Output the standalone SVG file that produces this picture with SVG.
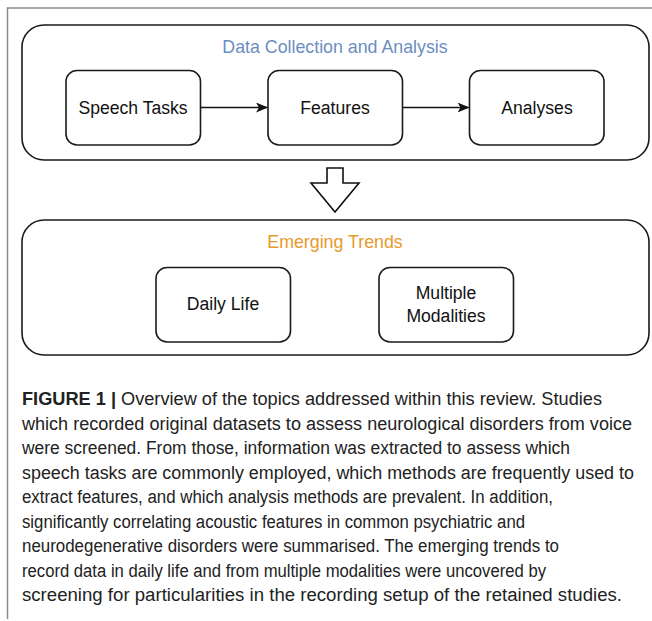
<svg xmlns="http://www.w3.org/2000/svg" width="652" height="621" viewBox="0 0 652 621">
<defs>
<style>
.frame{fill:none;stroke:#8a8a8a;stroke-width:1.5}
.group{fill:#fff;stroke:#1a1a1a;stroke-width:1.6}
.node{fill:#fff;stroke:#1a1a1a;stroke-width:1.6}
.lbl{font-family:"Liberation Sans",Arial,sans-serif;font-size:17.6px;fill:#111;text-anchor:middle}
.title{font-family:"Liberation Sans",Arial,sans-serif;font-size:17.8px;text-anchor:middle}
.cap{font-family:"Liberation Sans",Arial,sans-serif;font-size:18px;fill:#222}
.edge{fill:none;stroke:#111;stroke-width:1.6}
</style>
<marker id="arr" viewBox="0 0 12 10" refX="11" refY="5" markerWidth="12" markerHeight="10" markerUnits="userSpaceOnUse" orient="auto">
<path d="M0,0 L12,5 L0,10 L3,5 Z" fill="#111"/>
</marker>
</defs>
<rect width="652" height="621" fill="#fff"/>
<path class="frame" d="M652,8 H7.5 V619"/>

<g id="data-collection">
<rect class="group" x="22" y="25" width="627" height="135" rx="22"/>
<text class="title" x="335" y="53" fill="#6c8ebf">Data Collection and Analysis</text>
</g>
<g id="speech-tasks">
<rect class="node" x="66" y="70.5" width="134.5" height="74.5" rx="11"/>
<text class="lbl" x="133" y="113.5">Speech Tasks</text>
</g>
<g id="features">
<rect class="node" x="268" y="70.5" width="134.5" height="74.5" rx="11"/>
<text class="lbl" x="335" y="113.5">Features</text>
</g>
<g id="analyses">
<rect class="node" x="469.5" y="70.5" width="134.5" height="74.5" rx="11"/>
<text class="lbl" x="537" y="113.5">Analyses</text>
</g>

<g id="connectors">
<line class="edge" x1="200.5" y1="107.5" x2="267" y2="107.5" marker-end="url(#arr)"/>
<line class="edge" x1="402.5" y1="107.5" x2="468.5" y2="107.5" marker-end="url(#arr)"/>
<polygon class="edge" points="327,168 343,168 343,183 359,183 335,212 311,183 327,183" fill="#fff"/>
</g>

<g id="emerging-trends">
<rect class="group" x="22" y="220" width="627" height="135" rx="22"/>
<text class="title" x="335" y="248" fill="#e69a2e">Emerging Trends</text>
</g>
<g id="daily-life">
<rect class="node" x="156" y="267.5" width="134.5" height="74.5" rx="11"/>
<text class="lbl" x="223" y="309.5">Daily Life</text>
</g>
<g id="multiple-modalities">
<rect class="node" x="379" y="267.5" width="134.5" height="74.5" rx="11"/>
<text class="lbl" x="446" y="299">Multiple</text>
<text class="lbl" x="446" y="322">Modalities</text>
</g>

<g id="caption" class="cap">
<text x="22" y="405" textLength="580" lengthAdjust="spacingAndGlyphs"><tspan font-weight="bold">FIGURE 1 |</tspan> Overview of the topics addressed within this review. Studies</text>
<text x="22" y="429.5" textLength="610" lengthAdjust="spacingAndGlyphs">which recorded original datasets to assess neurological disorders from voice</text>
<text x="22" y="454" textLength="548" lengthAdjust="spacingAndGlyphs">were screened. From those, information was extracted to assess which</text>
<text x="22" y="478.5" textLength="612" lengthAdjust="spacingAndGlyphs">speech tasks are commonly employed, which methods are frequently used to</text>
<text x="22" y="503" textLength="531" lengthAdjust="spacingAndGlyphs">extract features, and which analysis methods are prevalent. In addition,</text>
<text x="22" y="527.5" textLength="503" lengthAdjust="spacingAndGlyphs">significantly correlating acoustic features in common psychiatric and</text>
<text x="22" y="552" textLength="537" lengthAdjust="spacingAndGlyphs">neurodegenerative disorders were summarised. The emerging trends to</text>
<text x="22" y="576.5" textLength="524" lengthAdjust="spacingAndGlyphs">record data in daily life and from multiple modalities were uncovered by</text>
<text x="22" y="601" textLength="600" lengthAdjust="spacingAndGlyphs">screening for particularities in the recording setup of the retained studies.</text>
</g>
</svg>
